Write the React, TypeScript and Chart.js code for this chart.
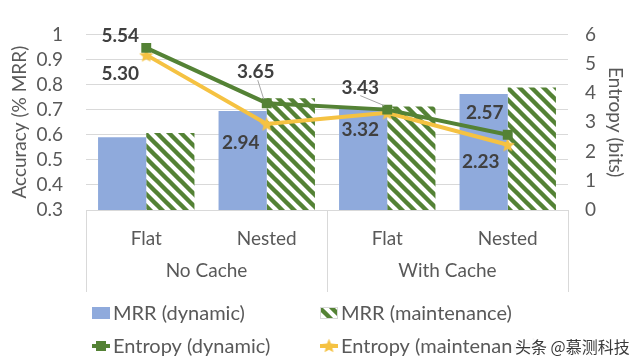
import React, { useEffect, useRef } from 'react';
import { Chart, registerables } from 'chart.js';

Chart.register(...registerables);

const categories = ['Flat', 'Nested', 'Flat', 'Nested'];
const groupLabels = ['No Cache', 'With Cache'];
const mrrDynamic = [0.59, 0.695, 0.708, 0.762];
const mrrMaintenance = [0.607, 0.745, 0.713, 0.788];
const entropyDynamic = [5.54, 3.65, 3.43, 2.57];
const entropyMaintenance = [5.3, 2.94, 3.32, 2.23];
const seriesNames = ['MRR (dynamic)', 'MRR (maintenance)', 'Entropy (dynamic)', 'Entropy (maintenance)'];
const leftAxisTitle = 'Accuracy (% MRR)';
const rightAxisTitle = 'Entropy (bits)';
const watermark = '头条 @慕测科技';

// label placement relative to each point (layout, not data)
const dynLabelOffsets = [[-26, -12], [-11, -31], [-27, -22], [-23, -22]];
const dynLeader = [false, true, true, false];
const mntLabelOffsets = [[-26, 19], [-26, 19], [-27, 17], [-27, 17]];

const BLUE = '#8FAADC';
const GREEN = '#548235';
const YELLOW = '#F5C242';
const TEXT = '#595959';
const FONT = 'Lato, "Open Sans", sans-serif';

function makeStripePattern(ctx: CanvasRenderingContext2D) {
  const s = 12;
  const c = document.createElement('canvas');
  c.width = s;
  c.height = s;
  const g = c.getContext('2d')!;
  g.fillStyle = '#ffffff';
  g.fillRect(0, 0, s, s);
  g.strokeStyle = GREEN;
  g.lineWidth = 4.4;
  g.beginPath();
  for (const off of [-s, 0, s]) {
    g.moveTo(off - 2, -2);
    g.lineTo(off + s + 2, s + 2);
  }
  g.stroke();
  return ctx.createPattern(c, 'repeat')!;
}

function makeStar(size: number, color: string) {
  const c = document.createElement('canvas');
  c.width = size;
  c.height = size;
  const g = c.getContext('2d')!;
  const cx = size / 2, cy = size / 2 + 0.8;
  const R = size / 2, r = R * 0.45;
  g.fillStyle = color;
  g.beginPath();
  for (let i = 0; i < 10; i++) {
    const rad = i % 2 === 0 ? R : r;
    const a = -Math.PI / 2 + (i * Math.PI) / 5;
    const x = cx + rad * Math.cos(a);
    const y = cy + rad * Math.sin(a);
    if (i === 0) g.moveTo(x, y); else g.lineTo(x, y);
  }
  g.closePath();
  g.fill();
  return c;
}

export default function App() {
  const ref = useRef<HTMLCanvasElement>(null);
  useEffect(() => {
    const canvas = ref.current!;
    const ctx = canvas.getContext('2d')!;
    const pattern = makeStripePattern(ctx);
    const star = makeStar(15, YELLOW);

    const decor = {
      id: 'decor',
      afterDatasetsDraw(chart: any) {
        const c = chart.ctx;
        c.save();
        c.font = `bold 19px ${FONT}`;
        c.fillStyle = '#404040';
        c.textAlign = 'center';
        c.textBaseline = 'middle';
        const m2 = chart.getDatasetMeta(2);
        const m3 = chart.getDatasetMeta(3);
        m2.data.forEach((pt: any, i: number) => {
          const [dx, dy] = dynLabelOffsets[i];
          const lx = pt.x + dx, ly = pt.y + dy;
          if (dynLeader[i]) {
            c.strokeStyle = '#A6A6A6';
            c.lineWidth = 1;
            c.beginPath();
            c.moveTo(lx + (dx < -15 ? 0 : 2), ly + 8);
            c.lineTo(pt.x - 3, pt.y - 4);
            c.stroke();
          }
          c.fillText(entropyDynamic[i].toFixed(2), lx, ly);
        });
        m3.data.forEach((pt: any, i: number) => {
          const [dx, dy] = mntLabelOffsets[i];
          c.fillText(entropyMaintenance[i].toFixed(2), pt.x + dx, pt.y + dy);
        });
        c.restore();
      },
      afterDraw(chart: any) {
        const c = chart.ctx;
        const xs = chart.scales.x;
        const area = chart.chartArea;
        c.save();
        // group separators
        const p = (i: number) => xs.getPixelForValue(i);
        const bounds = [area.left, (p(1) + p(2)) / 2, area.right];
        c.strokeStyle = '#D9D9D9';
        c.lineWidth = 1;
        bounds.forEach((bx) => {
          const x = Math.round(bx) + 0.5;
          c.beginPath();
          c.moveTo(x, area.bottom);
          c.lineTo(x, 292);
          c.stroke();
        });
        // group labels
        c.font = `19px ${FONT}`;
        c.fillStyle = TEXT;
        c.textAlign = 'center';
        c.textBaseline = 'middle';
        groupLabels.forEach((g, i) => {
          c.fillText(g, (bounds[i] + bounds[i + 1]) / 2, 271);
        });
        // legend
        const cols = [92, 320];
        const rows = [313, 346];
        c.font = `20px ${FONT}`;
        c.textAlign = 'left';
        chart.data.datasets.forEach((ds: any, i: number) => {
          const x = cols[i % 2];
          const y = rows[Math.floor(i / 2)];
          if (i === 0) {
            c.fillStyle = BLUE;
            c.fillRect(x, y - 6, 18, 12);
          } else if (i === 1) {
            c.fillStyle = pattern;
            c.fillRect(x, y - 6, 18, 12);
            c.strokeStyle = '#D9D9D9';
            c.strokeRect(x + 0.5, y - 5.5, 17, 11);
          } else {
            const col = i === 2 ? GREEN : YELLOW;
            c.strokeStyle = col;
            c.lineWidth = 4;
            c.beginPath();
            c.moveTo(x, y);
            c.lineTo(x + 18, y);
            c.stroke();
            if (i === 2) {
              c.fillStyle = GREEN;
              c.fillRect(x + 4, y - 5, 10, 10);
            } else {
              c.drawImage(star, x + 1.5, y - 8);
            }
          }
          c.fillStyle = TEXT;
          c.fillText(ds.label, x + 21, y + 1);
        });
        // watermark
        c.fillStyle = 'rgba(255,255,255,0.95)';
        c.fillRect(513, 334, 127, 26);
        c.font = '16px "Noto Sans CJK SC", sans-serif';
        c.fillStyle = '#3a3a3a';
        c.textAlign = 'left';
        c.fillText(watermark, 515, 347);
        c.restore();
      },
    };

    const tickFmt = (v: any) => String(Math.round(Number(v) * 10) / 10);

    const chart = new Chart(canvas, {
      type: 'bar',
      data: {
        labels: categories,
        datasets: [
          {
            type: 'bar',
            label: seriesNames[0],
            data: mrrDynamic,
            backgroundColor: BLUE,
            borderWidth: 0,
            yAxisID: 'y',
            order: 2,
          },
          {
            type: 'bar',
            label: seriesNames[1],
            data: mrrMaintenance,
            backgroundColor: pattern,
            borderWidth: 0,
            yAxisID: 'y',
            order: 3,
          },
          {
            type: 'line',
            label: seriesNames[2],
            data: entropyDynamic,
            borderColor: GREEN,
            backgroundColor: GREEN,
            borderWidth: 4,
            pointStyle: 'rect',
            pointRadius: 7,
            pointBorderWidth: 0,
            tension: 0,
            yAxisID: 'y2',
            order: 0,
          },
          {
            type: 'line',
            label: seriesNames[3],
            data: entropyMaintenance,
            borderColor: YELLOW,
            backgroundColor: YELLOW,
            borderWidth: 4,
            pointStyle: star as any,
            pointRadius: 7,
            tension: 0,
            yAxisID: 'y2',
            order: 1,
          },
        ] as any,
      },
      options: {
        animation: false,
        responsive: false,
        maintainAspectRatio: false,
        layout: { padding: { top: 22, left: 0, right: 0, bottom: 0 } },
        plugins: { legend: { display: false }, tooltip: { enabled: false } },
        datasets: { bar: { categoryPercentage: 0.8, barPercentage: 1.0 } },
        scales: {
          x: {
            grid: { display: false, drawTicks: false },
            border: { display: false },
            ticks: { font: { family: FONT, size: 19 }, color: TEXT, padding: 17 },
            afterFit: (s: any) => { s.height = 153; },
          },
          y: {
            position: 'left',
            min: 0.3,
            max: 1,
            ticks: { stepSize: 0.1, autoSkip: false, callback: tickFmt, font: { family: FONT, size: 19 }, color: TEXT, padding: 23 },
            grid: { color: '#D9D9D9', drawTicks: false },
            border: { display: false },
            title: { display: true, text: leftAxisTitle, font: { family: FONT, size: 19 }, color: TEXT, padding: { top: 8, bottom: 0 } },
            afterFit: (s: any) => { s.width = 86; },
          },
          y2: {
            position: 'right',
            min: 0,
            max: 6,
            ticks: { stepSize: 1, autoSkip: false, font: { family: FONT, size: 19 }, color: TEXT, padding: 17 },
            grid: { display: false, drawTicks: false },
            border: { display: false },
            title: { display: true, text: rightAxisTitle, font: { family: FONT, size: 19 }, color: TEXT, padding: { top: 13, bottom: 0 } },
            afterFit: (s: any) => { s.width = 72; },
          },
        },
      } as any,
      plugins: [decor],
    });
    return () => chart.destroy();
  }, []);
  return (
    <div style={{ position: 'fixed', left: 0, top: 0, width: 640, height: 363, background: '#fff' }}>
      <canvas ref={ref} width={640} height={363} style={{ width: 640, height: 363, display: 'block' }} />
    </div>
  );
}
